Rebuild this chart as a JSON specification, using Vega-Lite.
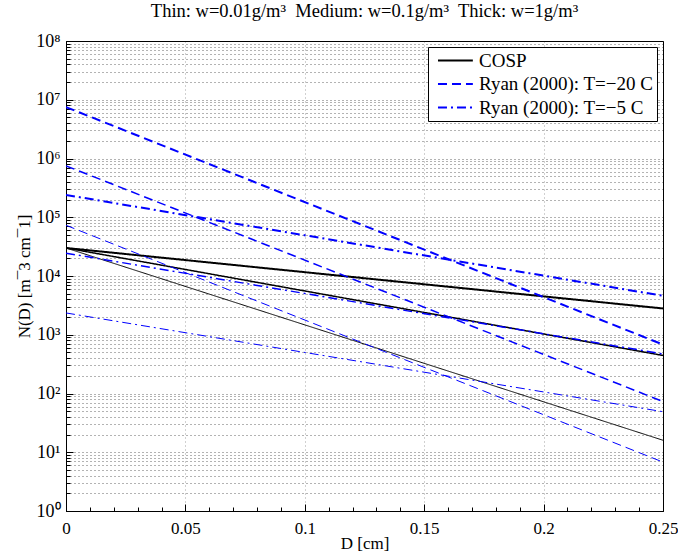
{
  "$schema": "https://vega.github.io/schema/vega-lite/v6.json",
  "autosize": {"type": "none"},
  "padding": {"left": 66, "top": 41, "right": 15, "bottom": 43},
  "width": 597,
  "height": 470,
  "background": "white",
  "title": {
    "text": "Thin: w=0.01g/m³\u00a0 Medium: w=0.1g/m³\u00a0 Thick: w=1g/m³",
    "font": "Liberation Serif",
    "fontSize": 18.5,
    "fontWeight": "normal",
    "color": "black",
    "offset": 12
  },
  "data": {
    "values": [
      {"series": "COSP thin", "model": "COSP", "thickness": "Thin", "D": 0, "N": 30000},
      {"series": "COSP thin", "model": "COSP", "thickness": "Thin", "D": 0.25, "N": 16},
      {"series": "COSP medium", "model": "COSP", "thickness": "Medium", "D": 0, "N": 30000},
      {"series": "COSP medium", "model": "COSP", "thickness": "Medium", "D": 0.25, "N": 444},
      {"series": "COSP thick", "model": "COSP", "thickness": "Thick", "D": 0, "N": 30000},
      {"series": "COSP thick", "model": "COSP", "thickness": "Thick", "D": 0.25, "N": 2800},
      {"series": "R20 thin", "model": "Ryan (2000): T=−20 C", "thickness": "Thin", "D": 0, "N": 73000},
      {"series": "R20 thin", "model": "Ryan (2000): T=−20 C", "thickness": "Thin", "D": 0.25, "N": 6.8},
      {"series": "R20 medium", "model": "Ryan (2000): T=−20 C", "thickness": "Medium", "D": 0, "N": 750000},
      {"series": "R20 medium", "model": "Ryan (2000): T=−20 C", "thickness": "Medium", "D": 0.25, "N": 73},
      {"series": "R20 thick", "model": "Ryan (2000): T=−20 C", "thickness": "Thick", "D": 0, "N": 7500000},
      {"series": "R20 thick", "model": "Ryan (2000): T=−20 C", "thickness": "Thick", "D": 0.25, "N": 680},
      {"series": "R5 thin", "model": "Ryan (2000): T=−5 C", "thickness": "Thin", "D": 0, "N": 2350},
      {"series": "R5 thin", "model": "Ryan (2000): T=−5 C", "thickness": "Thin", "D": 0.25, "N": 49},
      {"series": "R5 medium", "model": "Ryan (2000): T=−5 C", "thickness": "Medium", "D": 0, "N": 24500},
      {"series": "R5 medium", "model": "Ryan (2000): T=−5 C", "thickness": "Medium", "D": 0.25, "N": 470},
      {"series": "R5 thick", "model": "Ryan (2000): T=−5 C", "thickness": "Thick", "D": 0, "N": 240000},
      {"series": "R5 thick", "model": "Ryan (2000): T=−5 C", "thickness": "Thick", "D": 0.25, "N": 4600}
    ]
  },
  "mark": {"type": "line", "clip": true},
  "encoding": {
    "x": {
      "field": "D",
      "type": "quantitative",
      "scale": {"domain": [0, 0.25], "nice": false, "zero": false},
      "axis": {
        "title": "D [cm]",
        "values": [0, 0.01, 0.02, 0.03, 0.04, 0.05, 0.06, 0.07, 0.08, 0.09, 0.1, 0.11, 0.12, 0.13, 0.14, 0.15, 0.16, 0.17, 0.18, 0.19, 0.2, 0.21, 0.22, 0.23, 0.24, 0.25],
        "labelExpr": "abs(datum.value*20 - round(datum.value*20)) < 1e-6 ? format(datum.value, '~g') : ''",
        "gridOpacity": {"condition": {"test": "abs(datum.value*20 - round(datum.value*20)) < 1e-6", "value": 0.6}, "value": 0},
        "tickSize": {"condition": {"test": "abs(datum.value*20 - round(datum.value*20)) < 1e-6", "value": -7}, "value": -4},
        "labelPadding": 16,
        "titlePadding": -4
      }
    },
    "y": {
      "field": "N",
      "type": "quantitative",
      "scale": {"type": "log", "domain": [1, 100000000], "nice": false},
      "axis": {
        "title": "N(D) [m¯3 cm¯1]",
        "values": [1,2,3,4,5,6,7,8,9,10,20,30,40,50,60,70,80,90,100,200,300,400,500,600,700,800,900,1000,2000,3000,4000,5000,6000,7000,8000,9000,10000,20000,30000,40000,50000,60000,70000,80000,90000,100000,200000,300000,400000,500000,600000,700000,800000,900000,1000000,2000000,3000000,4000000,5000000,6000000,7000000,8000000,9000000,10000000,20000000,30000000,40000000,50000000,60000000,70000000,80000000,90000000,100000000],
        "labelExpr": "abs(log(datum.value)/LN10 - round(log(datum.value)/LN10)) < 1e-6 ? '10' + ['⁰','¹','²','³','⁴','⁵','⁶','⁷','⁸'][round(log(datum.value)/LN10)] : ''",
        "tickSize": {"condition": {"test": "abs(log(datum.value)/LN10 - round(log(datum.value)/LN10)) < 1e-6", "value": -7}, "value": -4},
        "labelPadding": 13,
        "labelFontSize": 18,
        "titlePadding": 2
      }
    },
    "color": {
      "field": "model",
      "type": "nominal",
      "scale": {"domain": ["COSP", "Ryan (2000): T=−20 C", "Ryan (2000): T=−5 C"], "range": ["#000000", "#0000ff", "#0000ff"]},
      "legend": {"title": null}
    },
    "strokeDash": {
      "field": "model",
      "type": "nominal",
      "scale": {"domain": ["COSP", "Ryan (2000): T=−20 C", "Ryan (2000): T=−5 C"], "range": [[1, 0], [9, 5], [9, 4, 2, 4]]},
      "legend": {"title": null}
    },
    "strokeWidth": {
      "field": "thickness",
      "type": "nominal",
      "scale": {"domain": ["Thin", "Medium", "Thick"], "range": [1, 2, 4.5]},
      "legend": null
    },
    "detail": {"field": "series"}
  },
  "config": {
    "view": {"stroke": "black", "strokeWidth": 1},
    "font": "Liberation Serif",
    "axis": {
      "labelFont": "Liberation Serif",
      "labelFontSize": 17,
      "labelColor": "black",
      "titleFont": "Liberation Serif",
      "titleFontSize": 17,
      "titleFontWeight": "normal",
      "titleColor": "black",
      "domainColor": "black",
      "tickColor": "black",
      "gridColor": "#000000",
      "gridOpacity": 0.6,
      "gridDash": [1, 3],
      "gridWidth": 1,
      "labelOverlap": false,
      "labelBound": false,
      "labelFlush": false
    },
    "legend": {
      "orient": "top-right",
      "offset": 6,
      "strokeColor": "black",
      "fillColor": "white",
      "padding": 3,
      "symbolType": "M-0.37,0H3.3",
      "symbolSize": 361,
      "symbolStrokeWidth": 2,
      "rowPadding": 2.5,
      "labelFont": "Liberation Serif",
      "labelFontSize": 19,
      "labelColor": "black",
      "labelOffset": 27,
      "labelLimit": 300
    }
  }
}
